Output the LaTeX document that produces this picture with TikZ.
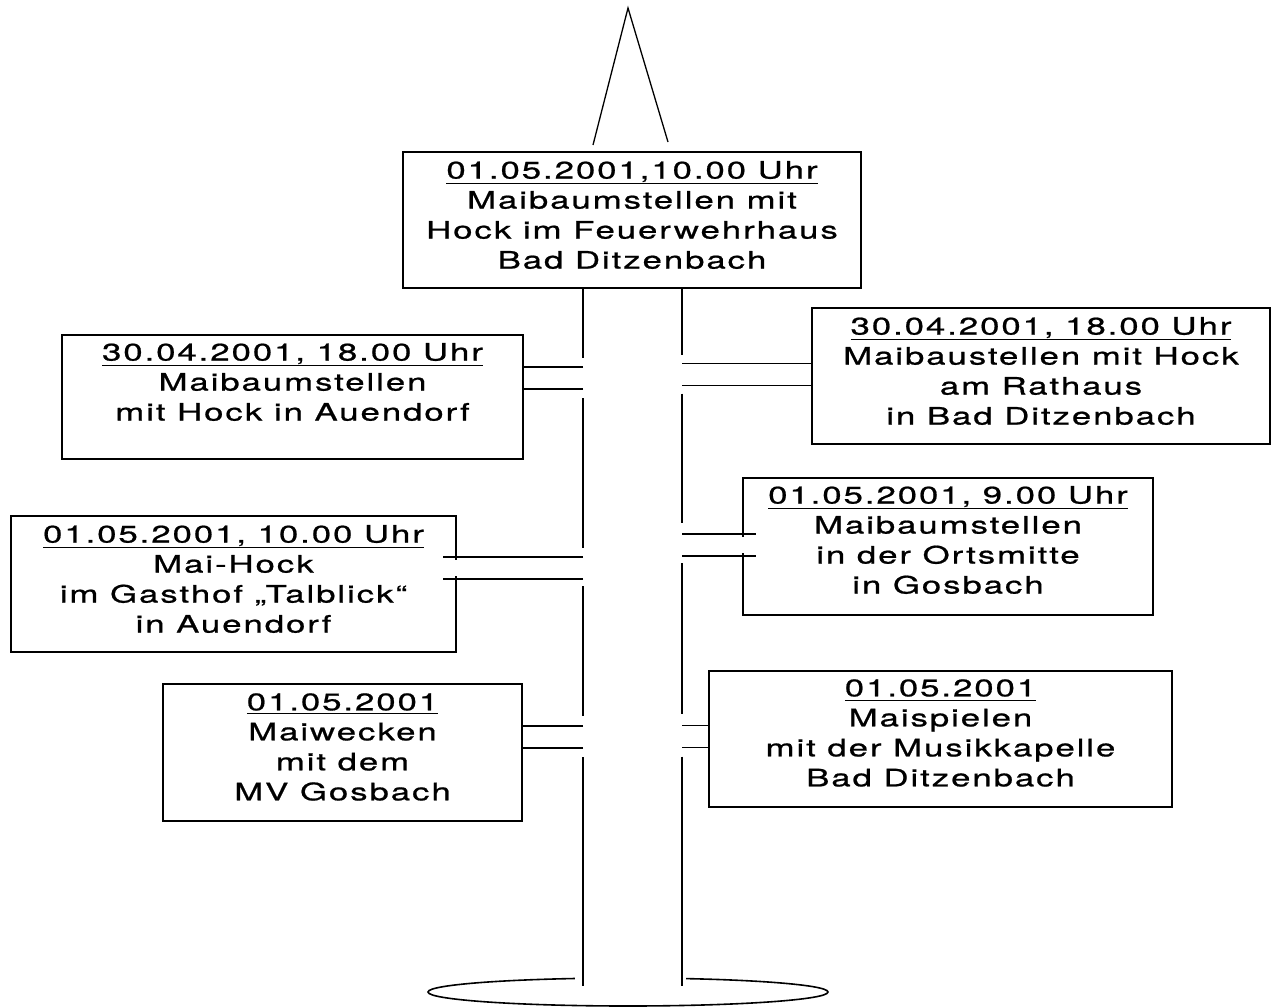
\documentclass[tikz,border=0pt]{standalone}
\usepackage{fontspec}
\newfontfamily\tafelfont[FakeStretch=1.45,LetterSpace=8,FakeBold=0.8]{TeX Gyre Heros}
\usetikzlibrary{shapes.geometric}
\tikzstyle{tafel} = [draw=black, line width=1.5pt, rectangle, inner sep=0pt]
\tikzstyle{aufschrift} = [align=center, inner sep=0pt,
    font=\tafelfont\fontsize{24}{30}\selectfont]
\tikzstyle{stange} = [line width=1.6pt]
\newcommand{\datum}[1]{\underline{#1\rule[-2pt]{0pt}{2pt}}}

\begin{document}
\begin{tikzpicture}[x=1pt,y=-1pt]
    \useasboundingbox (0,0) rectangle (1273,1008);
    % Spitze
    \coordinate (spitze) at (628,8);
    \draw[line width=1.3pt] (593,145) -- (spitze) -- (668,142);
    % Tafeln
    \node[tafel, minimum width=458pt, minimum height=136pt] (oben) at (632,220) {};
    \node[aufschrift] (oben-text) at (632,215) {\datum{01.05.2001,10.00 Uhr}\\
        Maibaumstellen mit\\Hock im Feuerwehrhaus\\Bad Ditzenbach};
    \node[tafel, minimum width=461pt, minimum height=124pt] (links1) at (292.5,397) {};
    \node[aufschrift] (links1-text) at (292.5,382) {\datum{30.04.2001, 18.00 Uhr}\\
        Maibaumstellen\\mit Hock in Auendorf};
    \node[tafel, minimum width=458pt, minimum height=136pt] (rechts1) at (1041,376) {};
    \node[aufschrift] (rechts1-text) at (1041,371) {\datum{30.04.2001, 18.00 Uhr}\\
        Maibaustellen mit Hock\\am Rathaus\\in Bad Ditzenbach};
    \node[tafel, minimum width=445pt, minimum height=136pt] (links2) at (233.5,584) {};
    \node[aufschrift] (links2-text) at (233.5,579) {\datum{01.05.2001, 10.00 Uhr}\\
        Mai-Hock\\im Gasthof „Talblick“\\in Auendorf};
    \node[tafel, minimum width=410pt, minimum height=137pt] (rechts2) at (948,546.5) {};
    \node[aufschrift] (rechts2-text) at (948,540) {\datum{01.05.2001, 9.00 Uhr}\\
        Maibaumstellen\\in der Ortsmitte\\in Gosbach};
    \node[tafel, minimum width=359pt, minimum height=137pt] (links3) at (342.5,752.5) {};
    \node[aufschrift] (links3-text) at (342.5,747) {\datum{01.05.2001}\\
        Maiwecken\\mit dem\\MV Gosbach};
    \node[tafel, minimum width=463pt, minimum height=136pt] (rechts3) at (940.5,739) {};
    \node[aufschrift] (rechts3-text) at (940.5,733) {\datum{01.05.2001}\\
        Maispielen\\mit der Musikkapelle\\Bad Ditzenbach};
    % Fuss
    \node[draw, ellipse, stange, minimum width=400pt, minimum height=28pt] (fuss) at (628,992) {};
    \fill[white] (575,968) rectangle (686,986);
    % Stange
    \coordinate (gl1) at (583,378);
    \coordinate (gl2) at (583,568);
    \coordinate (gl3) at (583,737);
    \coordinate (gr1) at (682,374.5);
    \coordinate (gr2) at (682,545);
    \coordinate (gr3) at (682,736.5);
    \coordinate (fl) at (583,986);
    \coordinate (fr) at (682,986);
    \draw[stange] (oben.south -| gl1) -- ([yshift=20pt]gl1)
        ([yshift=-20pt]gl1) -- ([yshift=20pt]gl2)
        ([yshift=-18pt]gl2) -- ([yshift=21pt]gl3)
        ([yshift=-20pt]gl3) -- (fl);
    \draw[stange] (oben.south -| gr1) -- ([yshift=20pt]gr1)
        ([yshift=-19pt]gr1) -- ([yshift=22pt]gr2)
        ([yshift=-18pt]gr2) -- ([yshift=23pt]gr3)
        ([yshift=-20pt]gr3) -- (fr);
    % Arme
    \foreach \g/\t in {gl1/links1, gl3/links3}
        \draw[stange] ([yshift=11pt]\g) -- ([yshift=11pt]\g -| \t.east)
            ([yshift=-11pt]\g) -- ([yshift=-11pt]\g -| \t.east);
    \foreach \g/\t in {gr1/rechts1, gr3/rechts3}
        \draw[stange] ([yshift=11pt]\g) -- ([yshift=11pt]\g -| \t.west)
            ([yshift=-11pt]\g) -- ([yshift=-11pt]\g -| \t.west);
    \draw[white, line width=3pt] ([yshift=8pt]gl2 -| links2.east) -- ([yshift=-8pt]gl2 -| links2.east);
    \draw[stange] ([yshift=11pt]gl2) -- ([xshift=-14pt, yshift=11pt]gl2 -| links2.east)
        ([yshift=-11pt]gl2) -- ([xshift=-14pt, yshift=-11pt]gl2 -| links2.east);
    \draw[white, line width=3pt] ([yshift=8pt]gr2 -| rechts2.west) -- ([yshift=-8pt]gr2 -| rechts2.west);
    \draw[stange] ([yshift=11pt]gr2) -- ([xshift=14pt, yshift=11pt]gr2 -| rechts2.west)
        ([yshift=-11pt]gr2) -- ([xshift=14pt, yshift=-11pt]gr2 -| rechts2.west);
\end{tikzpicture}
\end{document}
